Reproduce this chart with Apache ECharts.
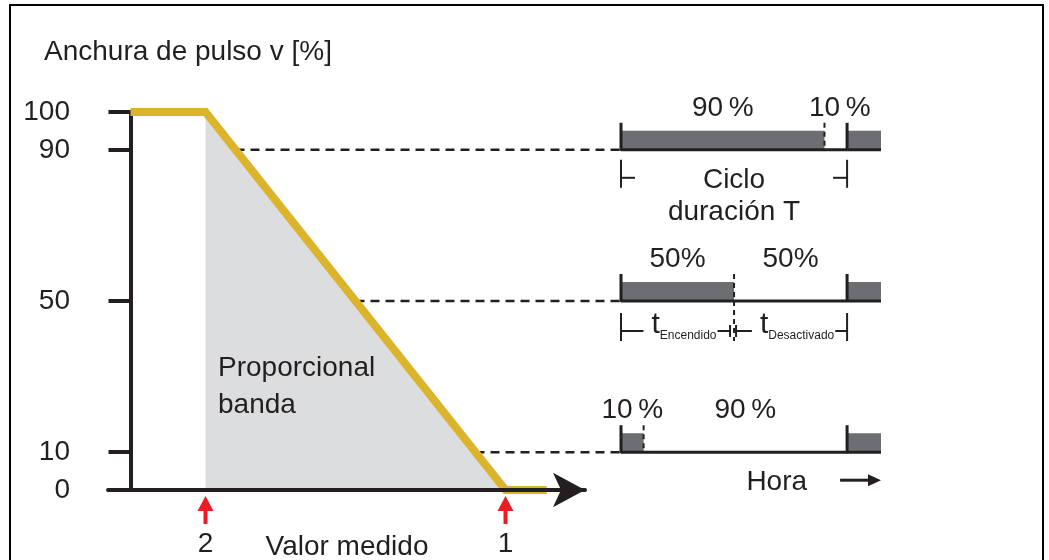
<!DOCTYPE html>
<html>
<head>
<meta charset="utf-8">
<title>Anchura de pulso</title>
<script src="https://cdn.jsdelivr.net/npm/echarts@6/dist/echarts.min.js"></script>
<style>
  html, body { margin: 0; padding: 0; background: #fff; }
  #chart { width: 1049px; height: 560px; }
</style>
</head>
<body>
<div id="chart"></div>
<script>
// curva anchura de pulso / valor medido
let curveX = [0, 20, 100, 111];
let curveY = [100, 100, 0, 0];
let bandX = [20, 100];
let bandY = [100, 0];
let yTicks = [0, 10, 50, 90, 100];
let markers = [20, 100];
let markerLabels = ['2', '1'];

// lineas discontinuas hasta los diagramas
let dashLevels = [90, 50, 10];
let dashFrom = [28, 60, 92];
let dashTo = 130.5;

// diagramas de pulso (tiempo)
let cycleT = 10;
let timeEnd = 11.5;
let pulseLevels = [90, 50, 10];
let pulseOn = [9, 5, 1];
let onLabels = ['90\u2009%', '50%', '10\u2009%'];
let offLabels = ['10\u2009%', '50%', '90\u2009%'];

const ink = '#231f20';
const font = 'Liberation Sans, Arial, sans-serif';

function txt(text, x, y, align, extra) {
  return {
    type: 'text',
    style: Object.assign({
      text: text,
      x: x,
      y: y,
      align: align || 'center',
      verticalAlign: 'middle',
      fontSize: 28,
      fontFamily: font,
      fill: ink,
    }, extra || {}),
  };
}

function seg(x1, y1, x2, y2, w, dash) {
  return {
    type: 'line',
    shape: { x1: x1, y1: y1, x2: x2, y2: y2 },
    style: { stroke: ink, lineWidth: w || 2, lineDash: dash || null },
  };
}

function renderPulse(params, api) {
  let level = api.value(0);
  let on = api.value(1);
  let i = params.dataIndex;
  let p0 = api.coord([0, level]);
  let pOn = api.coord([on, level]);
  let pT = api.coord([cycleT, level]);
  let pEnd = api.coord([timeEnd, level]);
  let y = p0[1];
  let barH = 19;
  let tickH = 27;

  let kids = [
    { type: 'rect', shape: { x: p0[0], y: y - barH, width: pOn[0] - p0[0], height: barH }, style: { fill: '#6d6e71' } },
    { type: 'rect', shape: { x: pT[0], y: y - barH, width: pEnd[0] - pT[0], height: barH }, style: { fill: '#6d6e71' } },
    seg(p0[0], y, pEnd[0], y, 3),
    seg(p0[0], y - tickH, p0[0], y + 1, 3),
    seg(pT[0], y - tickH, pT[0], y + 1, 3),
    seg(pOn[0], y - tickH, pOn[0], y + (i === 1 ? 40 : 0), 2, [5, 4]),
    txt(onLabels[i], (p0[0] + pOn[0]) / 2, y - 42),
    txt(offLabels[i], (pOn[0] + pT[0]) / 2 + (i === 0 ? 4 : 0), y - 42),
  ];

  if (i === 0) {
    kids.push(
      seg(p0[0], y + 10, p0[0], y + 38),
      seg(p0[0], y + 28, p0[0] + 14, y + 28),
      seg(pT[0], y + 10, pT[0], y + 38),
      seg(pT[0] - 14, y + 28, pT[0], y + 28),
      txt('Ciclo\nduración T', (p0[0] + pT[0]) / 2, y + 46, 'center', { lineHeight: 32 })
    );
  } else if (i === 1) {
    let rich = {
      t: { fontSize: 30, fontFamily: font, fill: ink, lineHeight: 34 },
      s: { fontSize: 12, fontFamily: font, fill: ink, lineHeight: 12, verticalAlign: 'bottom' },
    };
    kids.push(
      seg(p0[0], y + 12, p0[0], y + 40),
      seg(p0[0], y + 30, pOn[0] - 4, y + 30),
      seg(pOn[0] - 4, y + 24, pOn[0] - 4, y + 36),
      seg(pOn[0] + 2, y + 24, pOn[0] + 2, y + 36),
      seg(pOn[0] + 2, y + 30, pT[0], y + 30),
      seg(pT[0], y + 12, pT[0], y + 40),
      txt('{t|t}{s|Encendido}', (p0[0] + pOn[0]) / 2 + 3, y + 24, 'center', { rich: rich, backgroundColor: '#fff', padding: [0, 1, 0, 8] }),
      txt('{t|t}{s|Desactivado}', (pOn[0] + pT[0]) / 2 + 3, y + 24, 'center', { rich: rich, backgroundColor: '#fff', padding: [0, 1, 0, 8] })
    );
  } else {
    kids.push(
      txt('Hora', pT[0] - 40, y + 30, 'right'),
      seg(pT[0] - 7, y + 28, pEnd[0] - 10, y + 28, 3),
      { type: 'polygon', shape: { points: [[pEnd[0] - 13, y + 22], [pEnd[0], y + 28], [pEnd[0] - 13, y + 34]] }, style: { fill: ink } }
    );
  }
  return { type: 'group', children: kids };
}

function renderMarker(params, api) {
  let p = api.coord([api.value(0), 0]);
  return {
    type: 'group',
    children: [
      { type: 'polygon', shape: { points: [[p[0], p[1] + 6], [p[0] + 8, p[1] + 21], [p[0] - 8, p[1] + 21]] }, style: { fill: '#ed1c24' } },
      { type: 'rect', shape: { x: p[0] - 2, y: p[1] + 20, width: 4, height: 14 }, style: { fill: '#ed1c24' } },
    ],
  };
}

let chartDom = document.getElementById('chart');
let myChart = echarts.init(chartDom, null, { renderer: 'canvas' });

// grid 2 = misma escala que el valor medido, pero hasta los diagramas
let dashSeries = dashLevels.map(function (lv, k) {
  return {
    type: 'line',
    xAxisIndex: 2,
    yAxisIndex: 2,
    data: [[dashFrom[k], lv], [dashTo, lv]],
    symbol: 'none',
    silent: true,
    z: 2,
    lineStyle: { color: ink, width: 2.5, type: [9, 6] },
  };
});

let option = {
  animation: false,
  backgroundColor: '#fff',
  textStyle: { fontFamily: font },
  title: {
    text: 'Anchura de pulso v [%]',
    left: 44,
    top: 37,
    padding: 0,
    textStyle: { fontSize: 28, fontWeight: 'normal', color: ink, fontFamily: font, lineHeight: 30 },
  },
  grid: [
    { left: 108, top: 112, width: 477, height: 378, outerBoundsMode: 'none' },
    { left: 621, top: 112, width: 260, height: 378, outerBoundsMode: 'none' },
    { left: 108, top: 112, width: 517.5, height: 378, outerBoundsMode: 'none' },
  ],
  xAxis: [
    {
      type: 'value',
      gridIndex: 0,
      min: -6,
      max: 121.2,
      z: 5,
      splitLine: { show: false },
      axisTick: { show: false },
      axisLine: {
        onZero: true,
        symbol: ['none', 'arrow'],
        symbolSize: [26, 32],
        lineStyle: { color: ink, width: 4 },
      },
      axisLabel: {
        customValues: markers,
        formatter: function (v) {
          return markerLabels[markers.indexOf(v)];
        },
        margin: 40,
        fontSize: 28,
        color: ink,
        fontFamily: font,
      },
      name: 'Valor medido',
      nameLocation: 'middle',
      nameGap: 43,
      nameMoveOverlap: false,
      nameTextStyle: { fontSize: 28, color: ink, fontFamily: font, padding: [0, 0, 0, 1] },
    },
    { type: 'value', gridIndex: 1, min: 0, max: timeEnd, show: false },
    { type: 'value', gridIndex: 2, min: -6, max: 132, show: false },
  ],
  yAxis: [
    {
      type: 'value',
      gridIndex: 0,
      min: 0,
      max: 100,
      splitLine: { show: false },
      axisLine: { onZero: true, lineStyle: { color: ink, width: 4 } },
      axisTick: { customValues: yTicks, length: 22, lineStyle: { color: ink, width: 4 } },
      axisLabel: { customValues: yTicks, margin: 38, fontSize: 28, color: ink, fontFamily: font },
    },
    { type: 'value', gridIndex: 1, min: 0, max: 100, show: false },
    { type: 'value', gridIndex: 2, min: 0, max: 100, show: false },
  ],
  graphic: [
    {
      type: 'rect',
      shape: { x: 10, y: 5, width: 1033, height: 600 },
      style: { fill: null, stroke: '#000', lineWidth: 2 },
      silent: true,
      z: -1,
    },
    {
      type: 'text',
      x: 218,
      y: 350,
      style: {
        text: 'Proporcional\nbanda',
        fontSize: 28,
        fontFamily: font,
        fill: ink,
        lineHeight: 37,
      },
      z: 10,
    },
  ],
  series: [
    {
      type: 'line',
      xAxisIndex: 0,
      yAxisIndex: 0,
      data: bandX.map(function (x, k) { return [x, bandY[k]]; }),
      symbol: 'none',
      lineStyle: { width: 0, opacity: 0 },
      areaStyle: { color: '#dcdddf', opacity: 1 },
      silent: true,
      z: 1,
    },
  ].concat(dashSeries, [
    {
      type: 'line',
      xAxisIndex: 0,
      yAxisIndex: 0,
      data: curveX.map(function (x, k) { return [x, curveY[k]]; }),
      symbol: 'none',
      silent: true,
      z: 3,
      lineStyle: { color: '#dbb42c', width: 8, join: 'miter', cap: 'butt' },
    },
    {
      type: 'custom',
      xAxisIndex: 0,
      yAxisIndex: 0,
      data: markers.map(function (m) { return [m]; }),
      renderItem: renderMarker,
      silent: true,
      z: 4,
    },
    {
      type: 'custom',
      xAxisIndex: 1,
      yAxisIndex: 1,
      data: pulseLevels.map(function (lv, k) { return [lv, pulseOn[k]]; }),
      renderItem: renderPulse,
      silent: true,
      clip: false,
      z: 4,
    },
  ]),
};

option && myChart.setOption(option);
</script>
</body>
</html>
